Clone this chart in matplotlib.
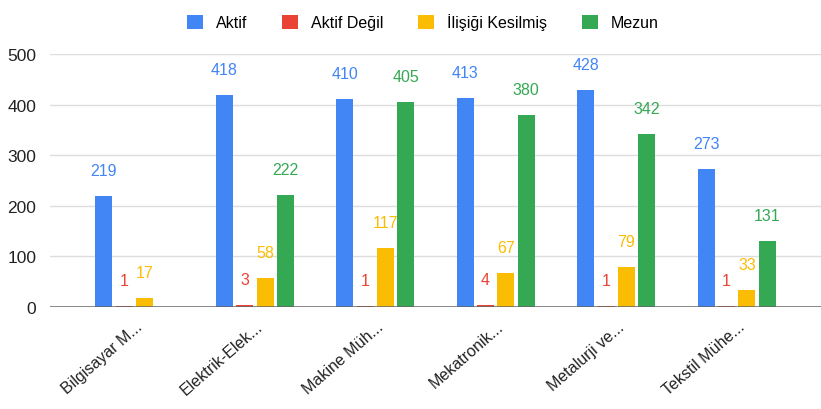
import numpy as np
import matplotlib
matplotlib.use("Agg")
import matplotlib.pyplot as plt
import matplotlib.transforms as mtransforms

plt.rcParams["font.family"] = ["Liberation Sans", "DejaVu Sans"]

departments = ["Bilgisayar M...", "Elektrik-Elek...", "Makine Müh...",
               "Mekatronik...", "Metalurji ve...", "Tekstil Mühe..."]
series_names = ["Aktif", "Aktif Değil", "İlişiği Kesilmiş", "Mezun"]
aktif = [219, 418, 410, 413, 428, 273]
aktif_degil = [1, 3, 1, 4, 1, 1]
ilisigi_kesilmis = [17, 58, 117, 67, 79, 33]
mezun = [0, 222, 405, 380, 342, 131]

COLORS = ["#4285F4", "#EA4335", "#FBBC04", "#34A853"]

fig = plt.figure(figsize=(8.21, 4.10), dpi=100)
ax = fig.add_axes([0.061, 0.249, 0.939, 0.617])

x = np.arange(len(departments))
step = 0.169
width = 0.141
all_series = [aktif, aktif_degil, ilisigi_kesilmis, mezun]

for i, (name, vals, col) in enumerate(zip(series_names, all_series, COLORS)):
    offs = (i - 1.5) * step
    ax.bar(x + offs, vals, width=width, color=col, label=name, zorder=3)
    for xi, v in zip(x, vals):
        if v == 0:
            continue
        ax.annotate(str(v), (xi + offs, v), xytext=(0, 13), textcoords="offset points",
                    ha="center", va="bottom", color=col, fontsize=11.5, zorder=4)

ax.set_xlim(-0.7, 5.7)
ax.set_ylim(0, 500)
ax.set_yticks([0, 100, 200, 300, 400, 500])
ax.tick_params(axis="y", length=0, labelsize=12.5, labelcolor="#222222", pad=10)
ax.tick_params(axis="x", length=0, labelsize=11.5, labelcolor="#222222")
ax.grid(axis="y", color="#dddddd", linewidth=1, zorder=0)
ax.axhline(0, color="#666666", linewidth=1.8, zorder=5)
for s in ax.spines.values():
    s.set_visible(False)

ax.set_xticks(x)
ax.set_xticklabels(departments, rotation=41, ha="right", rotation_mode="anchor")
shift = mtransforms.ScaledTranslation(0.01, -0.07, fig.dpi_scale_trans)
for lbl in ax.get_xticklabels():
    lbl.set_transform(lbl.get_transform() + shift)

fig.legend(loc="upper center", bbox_to_anchor=(0.515, 1.0), ncol=4, frameon=False,
           fontsize=11.5, handlelength=1.0, handleheight=1.0, columnspacing=2.2,
           handletextpad=0.8)

fig.savefig("out.png", dpi=100)
